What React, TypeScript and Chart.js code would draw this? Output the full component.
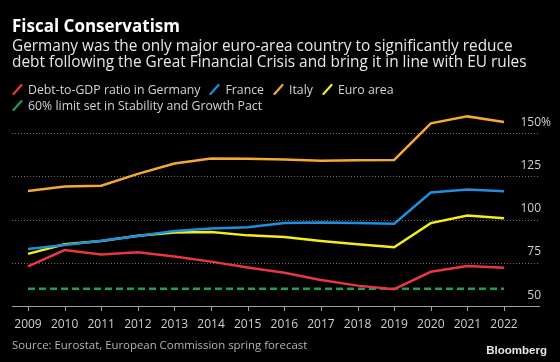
import React, { useEffect, useRef } from "react";
import { Chart, registerables } from "chart.js";

Chart.register(...registerables);

const YEARS = [2009, 2010, 2011, 2012, 2013, 2014, 2015, 2016, 2017, 2018, 2019, 2020, 2021, 2022];
const GERMANY = [73.0, 82.4, 79.8, 81.1, 78.7, 75.7, 72.3, 69.3, 65.1, 61.8, 59.7, 69.8, 73.1, 72.2];
const FRANCE = [83.0, 85.3, 87.8, 90.6, 93.4, 94.9, 95.6, 98.0, 98.3, 98.0, 97.6, 115.7, 117.4, 116.4];
const ITALY = [116.6, 119.2, 119.7, 126.5, 132.5, 135.4, 135.3, 134.8, 134.1, 134.4, 134.6, 155.8, 159.8, 156.6];
const EURO_AREA = [80.2, 85.7, 87.7, 90.7, 92.6, 92.8, 90.9, 90.0, 87.7, 85.8, 84.0, 98.0, 102.4, 100.8];
const LIMIT = [60, 60, 60, 60, 60, 60, 60, 60, 60, 60, 60, 60, 60, 60];
const Y_TICKS = [50, 75, 100, 125, 150];

const SERIES_NAMES = [
  "Debt-to-GDP ratio in Germany",
  "France",
  "Italy",
  "Euro area",
  "60% limit set in Stability and Growth Pact",
];
const COLORS = ["#e8383d", "#1f8fdc", "#f5a836", "#f2ee1c", "#1f9b5a"];

const FONT = "'Open Sans', 'DejaVu Sans', sans-serif";

function pts(vals: number[]) {
  return YEARS.map((y, i) => ({ x: y, y: vals[i] }));
}

const axesPlugin = {
  id: "bbgAxes",
  beforeDatasetsDraw(chart: any) {
    const { ctx, chartArea, scales } = chart;
    const x = scales.x;
    const y = scales.y;
    ctx.save();
    ctx.strokeStyle = "#6e6e6e";
    ctx.lineWidth = 1;
    ctx.setLineDash([1, 2]);
    Y_TICKS.forEach((v) => {
      if (v === Y_TICKS[0]) return;
      const py = Math.round(y.getPixelForValue(v)) + 0.5;
      ctx.beginPath();
      ctx.moveTo(chartArea.left, py);
      ctx.lineTo(chartArea.right, py);
      ctx.stroke();
    });
    ctx.setLineDash([]);
    const base = Math.round(y.getPixelForValue(Y_TICKS[0])) + 0.5;
    ctx.strokeStyle = "#a0a0a0";
    ctx.beginPath();
    ctx.moveTo(chartArea.left, base);
    ctx.lineTo(chartArea.right, base);
    ctx.stroke();
    YEARS.forEach((yr) => {
      const px = Math.round(x.getPixelForValue(yr)) + 0.5;
      ctx.beginPath();
      ctx.moveTo(px, base);
      ctx.lineTo(px, base + 4.5);
      ctx.stroke();
    });
    ctx.fillStyle = "#cfcfcf";
    ctx.font = `12px ${FONT}`;
    ctx.textBaseline = "alphabetic";
    ctx.textAlign = "center";
    YEARS.forEach((yr) => {
      ctx.fillText(String(yr), x.getPixelForValue(yr), base + 21.5);
    });
    const rightX = chartArea.right + 1;
    Y_TICKS.forEach((v, i) => {
      const py = y.getPixelForValue(v) - 7.5;
      ctx.textAlign = "right";
      ctx.fillText(String(v), rightX, py);
      if (i === Y_TICKS.length - 1) {
        ctx.textAlign = "left";
        ctx.fillText("%", rightX, py);
      }
    });
    ctx.restore();
  },
};

function Slash({ color }: { color: string }) {
  return (
    <svg width="11" height="12" style={{ display: "inline-block", marginRight: 5, verticalAlign: "-1px" }}>
      <line x1="1.5" y1="11" x2="9.5" y2="2" stroke={color} strokeWidth="2.2" strokeLinecap="round" />
    </svg>
  );
}

export default function App() {
  const canvasRef = useRef<HTMLCanvasElement | null>(null);

  useEffect(() => {
    const canvas = canvasRef.current;
    if (!canvas) return;
    const allVals = [GERMANY, FRANCE, ITALY, EURO_AREA, LIMIT];
    const chart = new Chart(canvas, {
      type: "line",
      data: {
        datasets: allVals.map((vals, i) => ({
          label: SERIES_NAMES[i],
          data: pts(vals),
          borderColor: COLORS[i],
          backgroundColor: COLORS[i],
          borderWidth: 2.5,
          pointRadius: 0,
          tension: 0,
          fill: false,
          borderDash: i === 4 ? [7, 4] : [],
          borderJoinStyle: "miter" as const,
        })),
      },
      options: {
        animation: false,
        responsive: false,
        devicePixelRatio: 1,
        layout: { padding: { left: 12, right: 20, top: 110, bottom: 56 } },
        plugins: { legend: { display: false }, tooltip: { enabled: false } },
        scales: {
          x: { type: "linear", min: 2008.563, max: 2022.983, display: false },
          y: { type: "linear", min: 50, max: 163.5, display: false },
        },
      },
      plugins: [axesPlugin],
    });
    return () => chart.destroy();
  }, []);

  const textBase: React.CSSProperties = {
    position: "absolute",
    left: 12,
    fontFamily: FONT,
    whiteSpace: "nowrap",
    margin: 0,
  };

  return (
    <div
      style={{
        position: "fixed",
        left: 0,
        top: 0,
        width: 560,
        height: 362,
        background: "#000",
        overflow: "hidden",
      }}
    >
      <canvas ref={canvasRef} width={560} height={362} style={{ position: "absolute", left: 0, top: 0 }} />
      <div style={{ ...textBase, top: 17.5, fontSize: 17, lineHeight: "16px", fontWeight: 700, color: "#fff" }}>
        Fiscal Conservatism
      </div>
      <div style={{ ...textBase, top: 38.3, fontSize: 15.4, lineHeight: "16px", color: "#e8e8e8" }}>
        Germany was the only major euro-area country to significantly reduce
        <br />
        debt following the Great Financial Crisis and bring it in line with EU rules
      </div>
      <div style={{ ...textBase, left: 12, top: 82.3, fontSize: 12.3, lineHeight: "16px", color: "#d4d4d4" }}>
        {SERIES_NAMES.slice(0, 4).map((n, i) => (
          <span key={n} style={{ marginRight: 9 }}>
            <Slash color={COLORS[i]} />
            {n}
          </span>
        ))}
      </div>
      <div style={{ ...textBase, left: 12, top: 98, fontSize: 12.3, lineHeight: "16px", color: "#d4d4d4" }}>
        <Slash color={COLORS[4]} />
        {SERIES_NAMES[4]}
      </div>
      <div style={{ ...textBase, top: 338.5, fontSize: 11.4, lineHeight: "12px", color: "#b4b4b4" }}>
        Source: Eurostat, European Commission spring forecast
      </div>
      <div
        style={{
          position: "absolute",
          right: 13,
          top: 344,
          fontFamily: "'Liberation Sans', Arial, sans-serif",
          fontWeight: 700,
          fontSize: 11.5,
          lineHeight: "12px",
          color: "#e6e6e6",
        }}
      >
        Bloomberg
      </div>
    </div>
  );
}
